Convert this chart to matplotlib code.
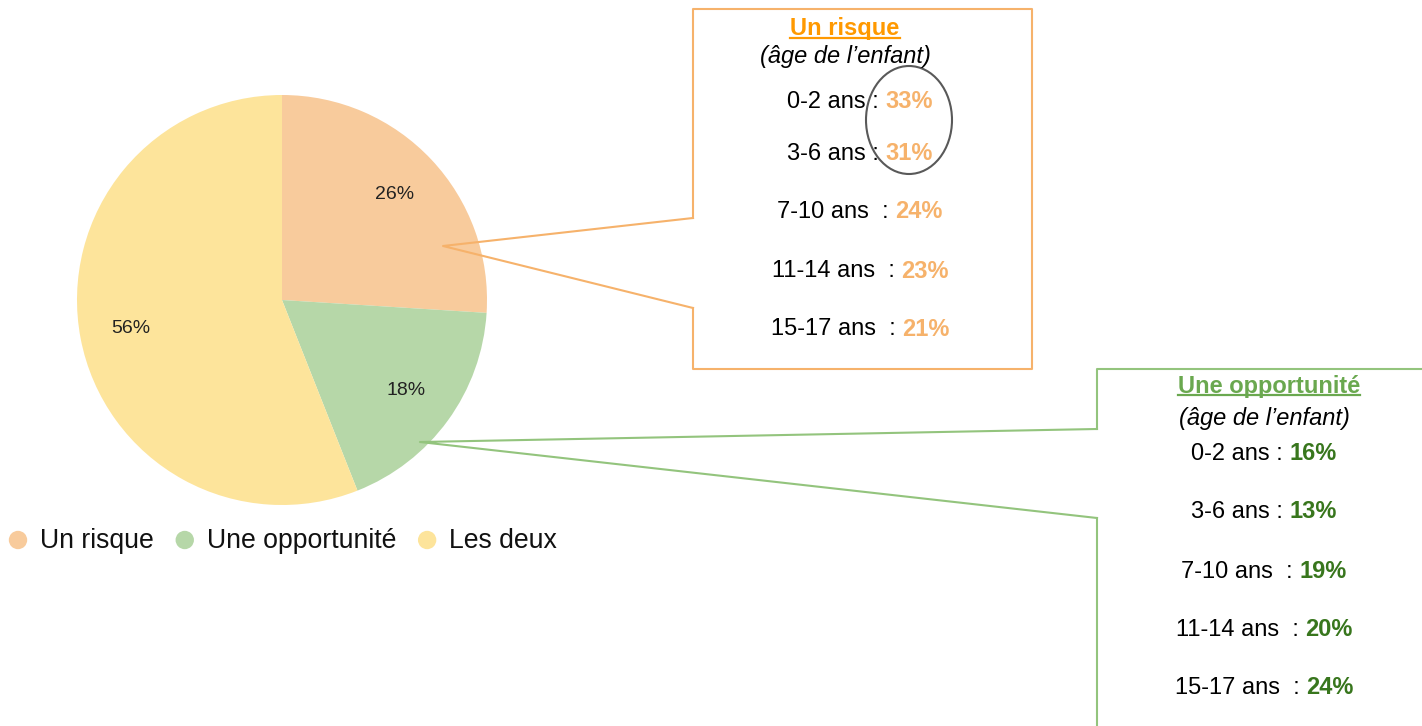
import matplotlib
matplotlib.use("Agg")
import matplotlib.pyplot as plt
from matplotlib.patches import Ellipse

plt.rcParams['font.family'] = ['Liberation Sans', 'DejaVu Sans']

# ── Donnees ─────────────────────────────────────────────
categories = ["Un risque", "Une opportunité", "Les deux"]
parts = [26, 18, 56]
couleurs = ["#F8CB9C", "#B6D7A8", "#FDE49B"]

tranches_age = ["0-2 ans : ", "3-6 ans : ", "7-10 ans  : ", "11-14 ans  : ", "15-17 ans  : "]
risque_age = [33, 31, 24, 23, 21]
opportunite_age = [16, 13, 19, 20, 24]

W, H = 1422, 726
FS = 17


def Y(py):
    # coordonnees ecran (haut = 0) -> coordonnees axe
    return H - py


fig = plt.figure(figsize=(W / 100, H / 100), dpi=100)
ax = fig.add_axes([0, 0, 1, 1])

# ── Camembert ──────────────────────────────────────────
wedges, _, autotexts = ax.pie(
    parts, colors=couleurs, startangle=90, counterclock=False,
    center=(282, Y(300)), radius=205, autopct="%d%%", pctdistance=0.75,
    textprops=dict(fontsize=14, color="#222222"), frame=True,
)
ax.set_xlim(0, W)
ax.set_ylim(0, H)
ax.set_aspect("equal")
ax.axis("off")
renderer = fig.canvas.get_renderer()

# ── Legende (pastilles + texte) ────────────────────────
x = 18
for cat, c in zip(categories, couleurs):
    ax.scatter([x], [Y(540)], s=175, color=c, edgecolors="none", zorder=5)
    t = ax.text(x + 22, Y(541), cat, ha="left", va="center", fontsize=19.2, color="#111111")
    x = x + 22 + t.get_window_extent(renderer).width + 31

# ── Encadres ───────────────────────────────────────────
orange_bord = "#F6B26B"
vert_bord = "#93C47D"

ax.plot([693, 693, 1032, 1032, 693, 693], [Y(218), Y(9), Y(9), Y(369), Y(369), Y(308)],
        color=orange_bord, lw=1.5)
ax.plot([693, 443, 693], [Y(218), Y(246), Y(308)], color=orange_bord, lw=1.5)

ax.plot([1097, 1097, 1430], [Y(429), Y(369), Y(369)], color=vert_bord, lw=1.5, clip_on=False)
ax.plot([1097, 1097], [Y(518), Y(740)], color=vert_bord, lw=1.5, clip_on=False)
ax.plot([1097, 420, 1097], [Y(429), Y(442), Y(518)], color=vert_bord, lw=1.5)


def titre(cx, py, texte, couleur, py_ligne):
    t = ax.text(cx, Y(py), texte, ha="center", va="center", fontsize=FS,
                fontweight="bold", color=couleur)
    bb = t.get_window_extent(renderer)
    ax.plot([bb.x0, bb.x1], [Y(py_ligne), Y(py_ligne)], color=couleur, lw=1.6)


def ligne(cx, py, label, valeur, couleur):
    t1 = ax.text(0, Y(py), label, ha="left", va="center", fontsize=FS, color="black")
    t2 = ax.text(0, Y(py), f"{valeur}%", ha="left", va="center", fontsize=FS,
                 fontweight="bold", color=couleur)
    w1 = t1.get_window_extent(renderer).width
    w2 = t2.get_window_extent(renderer).width
    x0 = cx - (w1 + w2) / 2
    t1.set_x(x0)
    t2.set_x(x0 + w1)


# Un risque
titre(845, 29, "Un risque", "#FF9900", 38)
ax.text(845, Y(56), "(âge de l’enfant)", ha="center", va="center", fontsize=FS, style="italic")
for py, lab, v in zip([102, 154, 212, 271, 329], tranches_age, risque_age):
    ligne(860, py, lab, v, "#F6B26B")

ax.add_patch(Ellipse((909, Y(120)), 86, 108, fill=False, edgecolor="#595959", lw=1.5))

# Une opportunite
titre(1269, 386, "Une opportunité", "#6AA84F", 395)
ax.text(1264, Y(419), "(âge de l’enfant)", ha="center", va="center", fontsize=FS, style="italic")
for py, lab, v in zip([454, 512, 572, 630, 688], tranches_age, opportunite_age):
    ligne(1264, py, lab, v, "#38761D")

fig.savefig("out.png", dpi=100)
